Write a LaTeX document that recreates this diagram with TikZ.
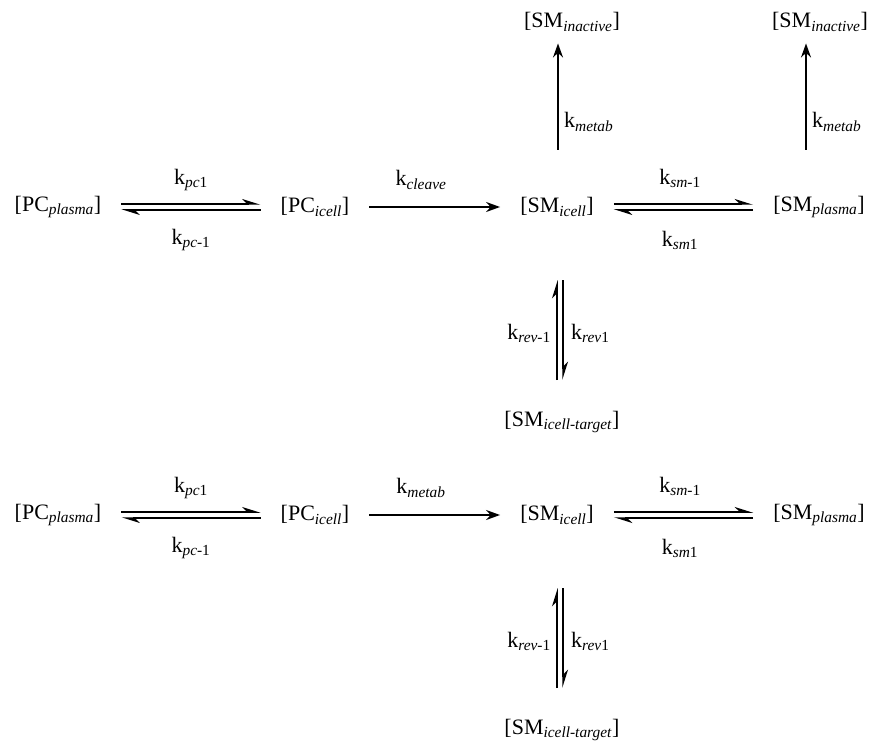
\documentclass[tikz,border=0pt]{standalone}
\usepackage{fontspec}
\setmainfont{Liberation Serif}
\usetikzlibrary{arrows.meta}
\tikzset{
    species/.style={inner sep=0pt, font=\fontsize{22}{26}\selectfont},
    rate/.style={inner sep=0pt, font=\fontsize{22}{26}\selectfont},
    fwd/.style={line width=1.5pt, -{Stealth[length=14pt,width=10pt]}, shorten <=20pt, shorten >=20pt},
    harp/.style={line width=1.5pt, -{Stealth[harpoon,length=16pt,width=10pt]}, shorten <=20pt, shorten >=20pt}
}
\newcommand{\ki}[2]{k\textsubscript{\textit{#1}#2}}
\newcommand{\spc}[2]{[#1\textsubscript{\textit{#2}}]}
\begin{document}
\begin{tikzpicture}[x=1pt, y=-1pt]
    \useasboundingbox (0,0) rectangle (885,751);
    % two schemes, second one shifted down
    \foreach \r/\dy/\mid in {a/0/cleave, b/308/metab} {
        \begin{scope}[yshift=-\dy]
        \node [species] (pcp\r) at (58,207) {\spc{PC}{plasma}};
        \node [species] (pci\r) at (315,207) {\spc{PC}{icell}};
        \node [species] (smi\r) at (557,207) {\spc{SM}{icell}};
        \node [species] (smp\r) at (819,207) {\spc{SM}{plasma}};
        \node [species] (smt\r) at (562,422) {\spc{SM}{icell-target}};
        \draw [harp] ([yshift=3]pcp\r.east) -- ([yshift=3]pci\r.west);
        \draw [harp] ([yshift=-3]pci\r.west) -- ([yshift=-3]pcp\r.east);
        \node [rate] at (191,180) {\ki{pc}{1}};
        \node [rate] at (191,240) {\ki{pc}{-1}};
        \draw [fwd] (pci\r.east) -- (smi\r.west);
        \node [rate] at (421,180) {\ki{\mid}{}};
        \draw [harp] ([yshift=3]smi\r.east) -- ([yshift=3]smp\r.west);
        \draw [harp] ([yshift=-3]smp\r.west) -- ([yshift=-3]smi\r.east);
        \node [rate] at (680,178) {\ki{sm}{-1}};
        \node [rate] at (680,240) {\ki{sm}{1}};
        \coordinate (up\r) at (560,280);
        \coordinate (dn\r) at (560,380);
        \draw [harp, shorten <=0pt, shorten >=0pt] ([xshift=-3]dn\r) -- ([xshift=-3]up\r);
        \draw [harp, shorten <=0pt, shorten >=0pt] ([xshift=3]up\r) -- ([xshift=3]dn\r);
        \node [rate, anchor=east] at (551,333) {\ki{rev}{-1}};
        \node [rate, anchor=west] at (571,333) {\ki{rev}{1}};
        \end{scope}
    }
    % inactivation of the first scheme
    \node [species] (ina) at (572,22) {\spc{SM}{inactive}};
    \node [species] (inb) at (820,22) {\spc{SM}{inactive}};
    \draw [fwd, shorten <=0pt, shorten >=12pt] (558,150) -- (ina.south -| 558,0);
    \draw [fwd, shorten <=0pt, shorten >=12pt] (806,150) -- (inb.south -| 806,0);
    \node [rate, anchor=west] at (564,122) {\ki{metab}{}};
    \node [rate, anchor=west] at (812,122) {\ki{metab}{}};
\end{tikzpicture}
\end{document}
